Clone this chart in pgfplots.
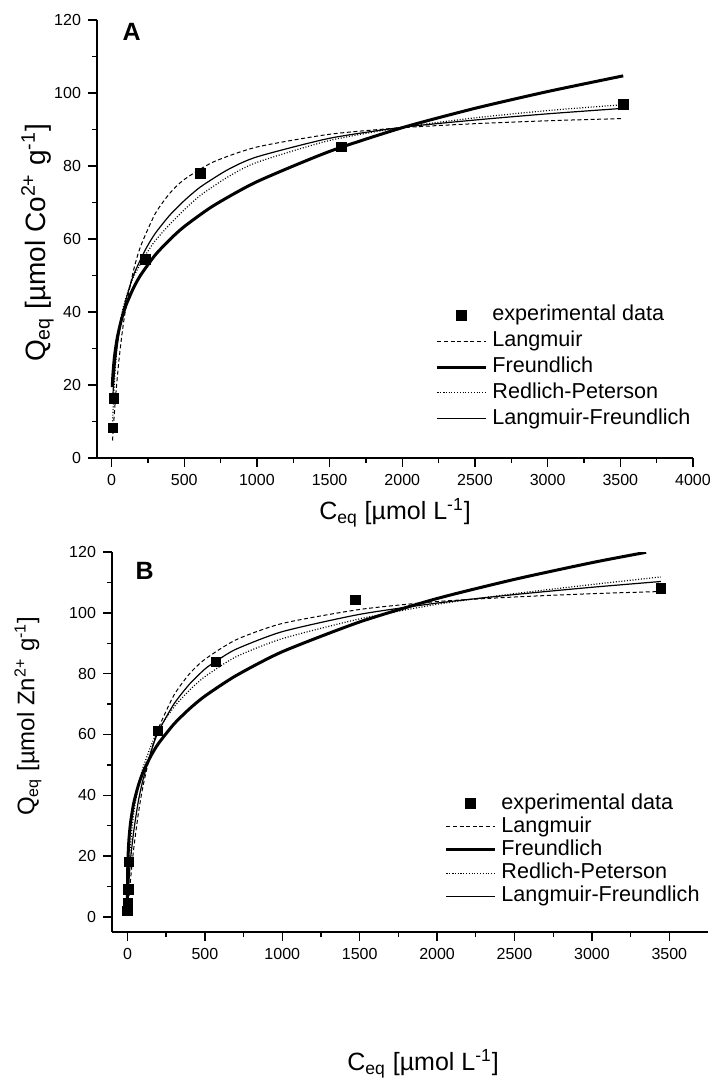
\documentclass[border=0pt]{standalone}
\usepackage{fontspec}
\setmainfont{Liberation Sans}
\usepackage{pgfplots}
\pgfplotsset{compat=1.18}

\pgfplotsset{
  iso/.style={
    scale only axis, width=298pt,
    axis x line*=bottom, axis y line*=left,
    axis line style={-, line width=0.7pt},
    tick align=outside, major tick length=4.5pt, minor tick length=2.5pt,
    tick style={black, line width=0.7pt},
    minor x tick num=1, minor y tick num=1,
    ymax=120, ytick={0,20,...,120},
    xmin=-100,
    tick label style={font=\fontsize{8}{9}\selectfont},
    /pgf/number format/assume math mode=true,
    /pgf/number format/1000 sep={},
    legend cell align=left,
    legend style={draw=none, fill=none, anchor=north west, inner sep=0pt,
      font=\fontsize{10.8}{12}\selectfont,
      nodes={inner sep=1pt, text height=8pt, text depth=2.5pt},
      /tikz/every even column/.append style={column sep=3pt}},
  },
  exp/.style={only marks, mark=square*, mark size=2.4pt, black},
  lang/.style={black, no marks, smooth, tension=0.4, line width=0.5pt, dash pattern=on 2pt off 1.3pt},
  freu/.style={black, no marks, smooth, tension=0.4, line width=1.5pt},
  rp/.style={black, no marks, smooth, tension=0.4, line width=0.6pt, dash pattern=on 0.5pt off 0.9pt},
  lf/.style={black, no marks, smooth, tension=0.4, line width=0.6pt},
  legend image code/.code={\path[draw=none, fill=none] (0pt,-2pt) rectangle (26.5pt,2pt);
    \draw[mark repeat=2,mark phase=2,#1]
    plot coordinates {(0pt,0pt) (12pt,0pt) (24pt,0pt)};},
}

\begin{document}
\begin{tikzpicture}
\useasboundingbox (0,0) rectangle (358pt,-541.5pt);

% panel A: Co
\begin{axis}[iso, at={(48.5pt,-229pt)}, anchor=south west, height=219pt,
  xmax=4000, xtick={0,500,...,4000}, ymin=0,
  xlabel={C\textsubscript{eq} [µmol L\textsuperscript{-1}]},
  ylabel={Q\textsubscript{eq} [µmol Co\textsuperscript{2+} g\textsuperscript{-1}]},
  xlabel style={at={(axis description cs:0.5,-0.125)}, anchor=center, font=\fontsize{12.5}{14}\selectfont},
  ylabel style={at={(axis description cs:-0.100,0.491)}, anchor=center, font=\fontsize{14}{16}\selectfont},
  legend style={at={(axis description cs:0.568,0.355)}, row sep=0.4pt},
]
\addplot[exp] coordinates {(10,8.3) (15,16.4) (232,54.4) (613,78.0) (1580,85.2) (3520,96.9)};
\addlegendentry{experimental data}
\addplot[lang] coordinates {(7,4.8) (15,9.8) (30,17.8) (50,26.4) (75,34.9) (100,41.5) (150,51.2)
  (200,58.0) (300,66.9) (400,72.5) (500,76.3) (700,81.1) (1000,85.2) (1500,88.7)
  (2000,90.5) (2500,91.6) (3000,92.4) (3520,93.0)};
\addlegendentry{Langmuir}
\addplot[freu] coordinates {(5,19.4) (9,22.6) (20,27.7) (40,33.1) (70,38.2) (100,41.9) (150,46.5)
  (200,50.1) (300,55.6) (400,59.8) (500,63.4) (700,69.1) (1000,75.7) (1500,84.0)
  (2000,90.5) (2500,95.8) (3000,100.4) (3520,104.7)};
\addlegendentry{Freundlich}
\addplot[rp] coordinates {(5,7) (9,11.5) (15,17) (25,24) (40,31.5) (70,39.5) (100,44) (150,49.5)
  (232,55.5) (300,59.5) (400,64) (500,68) (613,72) (800,77) (1000,81) (1500,87)
  (2000,90.6) (2500,93.2) (3000,95.2) (3520,96.8)};
\addlegendentry{Redlich-Peterson}
\addplot[lf] coordinates {(9,17) (20,23.5) (40,31) (70,38.5) (100,43.5) (150,50) (232,57)
  (300,61.5) (400,66.5) (500,70.5) (613,74.3) (800,79) (1000,82.5) (1500,87.6)
  (2000,90.6) (2500,92.6) (3000,94.3) (3520,95.8)};
\addlegendentry{Langmuir-Freundlich}
\node[font=\fontsize{12.5}{14}\selectfont\bfseries] at (axis description cs:0.058,0.973) {A};
\end{axis}

% panel B: Zn
\begin{axis}[iso, at={(56pt,-466pt)}, anchor=south west, height=190pt,
  xmax=3750, xtick={0,500,...,3500}, ymin=-5,
  xlabel={C\textsubscript{eq} [µmol L\textsuperscript{-1}]},
  ylabel={Q\textsubscript{eq} [µmol Zn\textsuperscript{2+} g\textsuperscript{-1}]},
  xlabel style={at={(axis description cs:0.522,-0.347)}, anchor=center, font=\fontsize{12.5}{14}\selectfont},
  ylabel style={at={(axis description cs:-0.141,0.568)}, anchor=center, font=\fontsize{12}{14}\selectfont},
  legend style={at={(axis description cs:0.558,0.372)}, row sep=-0.9pt},
]
\addplot[exp] coordinates {(1,2) (2,4.5) (6,9) (10,18) (197,61.1) (570,83.9) (1473,104.2) (3445,108.0)};
\addlegendentry{experimental data}
\addplot[lang] coordinates {(0.5,0.35) (2,1.4) (5,3.4) (10,6.5) (20,12.4) (40,22.3) (70,33.9)
  (100,42.9) (150,54.0) (200,62.0) (300,72.9) (400,79.9) (500,84.7) (700,91.1)
  (1000,96.5) (1500,101.1) (2000,103.7) (2500,105.2) (3000,106.3) (3445,107.0)};
\addlegendentry{Langmuir}
\addplot[freu] coordinates {(0.002,2.7) (0.05,6.4) (0.5,11.7) (2,16.9) (5,21.5) (10,25.8) (20,31.0)
  (40,37.3) (70,43.2) (100,47.5) (150,52.8) (200,57.0) (300,63.4) (400,68.4)
  (500,72.6) (700,79.3) (1000,87.2) (1500,97.0) (2000,104.7) (2500,111.0)
  (3000,116.5) (3350,119.9)};
\addlegendentry{Freundlich}
\addplot[rp] coordinates {(0.5,1.5) (2,5) (5,10) (10,16) (20,24) (40,34) (70,43) (100,49)
  (150,56) (200,61.5) (300,69) (400,74.5) (500,79) (700,85.5) (1000,91.5)
  (1500,98) (2000,102.8) (2500,106.3) (3000,109.3) (3445,111.8)};
\addlegendentry{Redlich-Peterson}
\addplot[lf] coordinates {(0.5,1) (2,3) (5,7) (10,12) (20,19) (40,28) (70,38) (100,45)
  (150,54) (200,61) (300,70) (400,76.5) (500,81.5) (570,84) (700,88) (1000,93.8)
  (1500,99.5) (2000,103.2) (2500,106) (3000,108.4) (3445,110.3)};
\addlegendentry{Langmuir-Freundlich}
\node[font=\fontsize{12.5}{14}\selectfont\bfseries] at (axis description cs:0.055,0.95) {B};
\end{axis}
\end{tikzpicture}
\end{document}
